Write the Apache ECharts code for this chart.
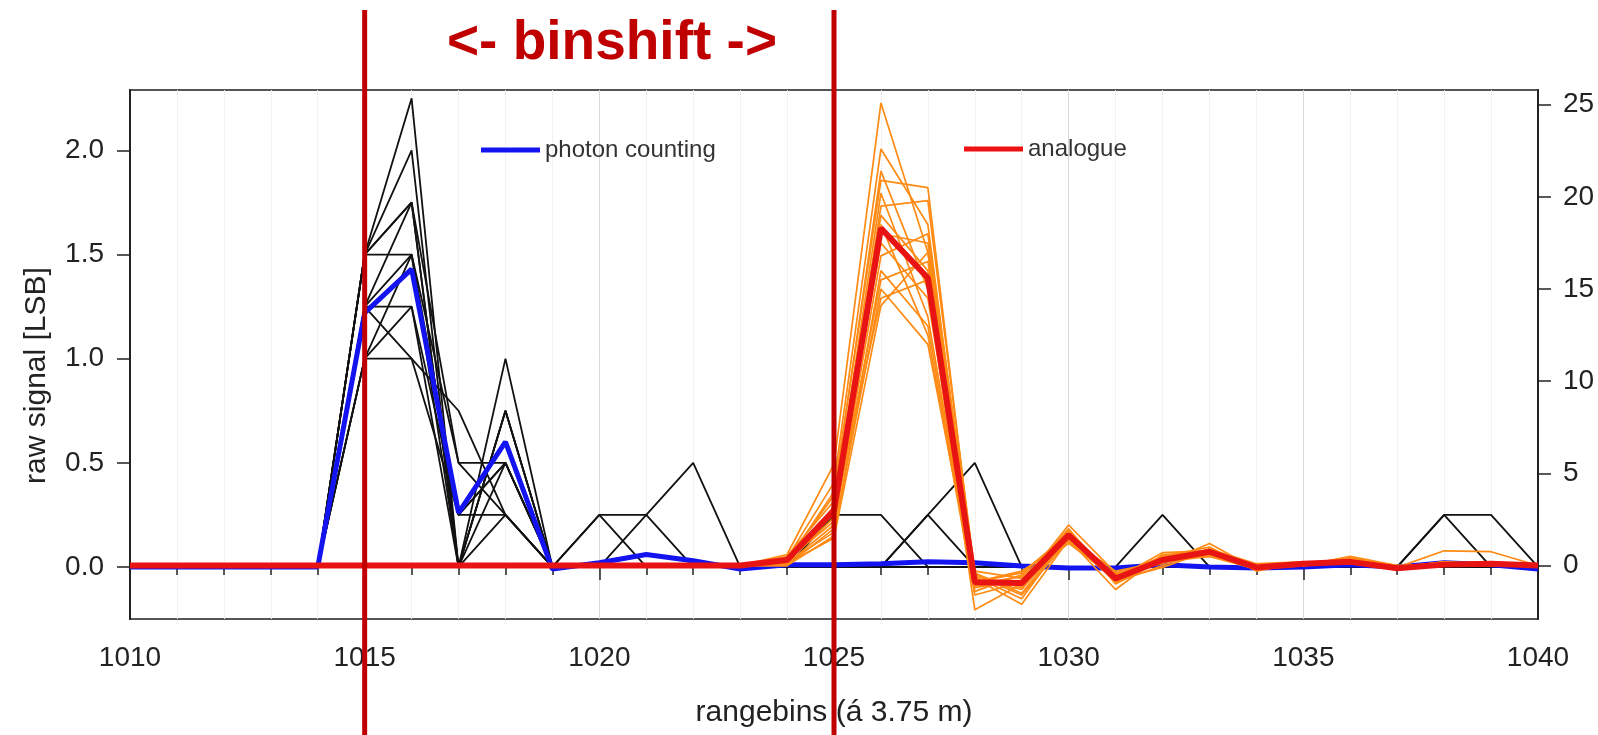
<!DOCTYPE html>
<html>
<head>
<meta charset="utf-8">
<title>binshift</title>
<script src="https://cdn.jsdelivr.net/npm/echarts@6/dist/echarts.min.js"></script>
<style>
  html, body { margin: 0; padding: 0; background: #fff; }
  #chart { width: 1598px; height: 735px; }
</style>
</head>
<body>
<div id="chart"></div>
<script>
// range bins on the x axis
const bins = [1010, 1011, 1012, 1013, 1014, 1015, 1016, 1017, 1018, 1019, 1020, 1021, 1022, 1023, 1024, 1025,
  1026, 1027, 1028, 1029, 1030, 1031, 1032, 1033, 1034, 1035, 1036, 1037, 1038, 1039, 1040]

// single photon counting profiles (left axis, LSB)
const pcShots = [
  [0,0,0,0,0, 1.5,2.25,0,1,0,     0.25,0.25,0,0,0, 0,0,0,0,0,       0,0,0,0,0, 0,0,0,0,0, 0],
  [0,0,0,0,0, 1.5,2,0,0.75,0,     0.25,0,0,0,0,    0,0,0,0,0,       0,0,0,0,0, 0,0,0,0,0, 0],
  [0,0,0,0,0, 1.25,1.75,0.5,0.5,0, 0,0.25,0.5,0,0, 0,0,0,0,0,       0,0,0,0,0, 0,0,0,0,0, 0],
  [0,0,0,0,0, 1.5,1.75,0,0.5,0,   0,0,0,0,0,       0.25,0.25,0,0,0, 0,0,0,0,0, 0,0,0,0,0, 0],
  [0,0,0,0,0, 1.5,1.5,0.25,0.25,0, 0,0,0,0,0,      0,0,0.25,0.5,0,  0,0,0,0,0, 0,0,0,0,0, 0],
  [0,0,0,0,0, 1.25,1.5,0,0.25,0,  0,0,0,0,0,       0,0,0.25,0,0,    0,0,0,0,0, 0,0,0,0,0, 0],
  [0,0,0,0,0, 1,1.5,0.5,0.25,0,   0,0,0,0,0,       0,0,0,0,0,       0,0,0.25,0,0, 0,0,0,0,0, 0],
  [0,0,0,0,0, 1.25,1.25,0.25,0.5,0, 0,0,0,0,0,     0,0,0,0,0,       0,0,0,0,0, 0,0,0,0.25,0.25, 0],
  [0,0,0,0,0, 1,1.25,0,0.75,0,    0,0,0,0,0,       0,0,0,0,0,       0,0,0,0,0, 0,0,0,0.25,0, 0],
  [0,0,0,0,0, 1.25,1,0.75,0.25,0, 0,0,0,0,0,       0,0,0,0,0,       0,0,0,0,0, 0,0,0,0,0, 0],
  [0,0,0,0,0, 1,1,0.25,0.5,0,     0,0,0,0,0,       0,0,0,0,0,       0,0,0,0,0, 0,0,0,0,0, 0],
  [0,0,0,0,0, 1.5,1.75,0,0.75,0,  0,0,0,0,0,       0,0,0,0,0,       0,0,0,0,0, 0,0,0,0,0, 0]
]

// photon counting mean
const pcMean = [0,0,0,0,0, 1.22,1.43,0.26,0.6,-0.01, 0.02,0.06,0.03,-0.01,0.01, 0.01,0.015,0.025,0.02,0.005,
  -0.005,-0.005,0.01,0,-0.005, 0,0.01,0,0.02,0.01, -0.01]

// single analogue profiles (right axis)
const anShots = [
  [0,0,0,0,0, 0,0,0,0,0, 0,0,0,0, 0.6,5.5,25.1,17,-0.5,-1.2,1.8,-0.6,0.3,0.8,-0.1,0.1,0.3,-0.1,0.8,0.75,0],
  [0,0,0,0,0, 0,0,0,0,0, 0,0,0,0, 0.4,4.5,22.6,18.5,-1,-0.6,1.5,-0.9,0.5,0.6,0,0.2,0.2,-0.2,0.1,0.1,0],
  [0,0,0,0,0, 0,0,0,0,0, 0,0,0,0, 0.3,3.8,21.4,15,-2.4,-1,2.2,-0.4,0.1,1.2,-0.2,0,0.4,0,0,0.1,0],
  [0,0,0,0,0, 0,0,0,0,0, 0,0,0,0, 0.2,4,20.9,20.5,-0.7,-2.1,1.4,-1.3,0.6,0.7,-0.1,0.1,0.2,-0.1,0.2,0,0],
  [0,0,0,0,0, 0,0,0,0,0, 0,0,0,0, 0.1,3.2,20.2,13.5,-1.2,-0.8,1.9,-0.7,0.2,0.9,0.1,0.2,0.1,-0.2,0.1,0.2,0],
  [0,0,0,0,0, 0,0,0,0,0, 0,0,0,0, 0.3,2.8,19.5,19.8,-0.4,-1.5,1.6,-0.5,0.4,0.5,-0.2,0.1,0.3,-0.1,0,0.1,0],
  [0,0,0,0,0, 0,0,0,0,0, 0,0,0,0, 0.5,3.5,19,16,-0.9,-0.3,1.3,-0.8,-0.1,0.8,-0.1,0,0.5,0,0.1,0,0],
  [0,0,0,0,0, 0,0,0,0,0, 0,0,0,0, 0,2,18.5,12.5,-1.6,-0.9,2,-1,0.3,0.7,0,0.1,0.2,-0.2,0.2,0.1,0],
  [0,0,0,0,0, 0,0,0,0,0, 0,0,0,0, 0.2,2.6,18,17.5,-0.6,-1.8,1.7,-0.6,0.5,1,-0.3,0.2,0.1,-0.1,0,0.1,0],
  [0,0,0,0,0, 0,0,0,0,0, 0,0,0,0, 0.4,3,17.5,14.5,-0.8,-1.1,1.5,-0.3,0.2,0.6,-0.1,0.1,0.3,-0.1,0.1,0,0],
  [0,0,0,0,0, 0,0,0,0,0, 0,0,0,0, 0.1,2.2,16.8,18,-0.3,-0.7,1.2,-0.7,0.7,0.8,0,0,0.2,-0.2,0.1,0.2,0],
  [0,0,0,0,0, 0,0,0,0,0, 0,0,0,0, 0,1.6,16,13,-1.4,-0.5,1.8,-0.9,0,0.9,-0.1,0.1,0.4,0,0,0.1,0],
  [0,0,0,0,0, 0,0,0,0,0, 0,0,0,0, 0.3,2.4,15.5,16.5,-0.7,-1.3,1.6,-0.5,0.4,0.6,-0.2,0.2,0.1,-0.1,0.2,0,0],
  [0,0,0,0,0, 0,0,0,0,0, 0,0,0,0, 0.2,1.8,15,12,-1.1,-0.9,1.9,-0.8,0.3,0.7,0,0.1,0.2,-0.2,0.1,0.1,0],
  [0,0,0,0,0, 0,0,0,0,0, 0,0,0,0, 0.4,2.9,14.5,15.5,-0.5,-1.6,1.4,-0.6,0.2,0.5,-0.1,0,0.3,-0.1,0,0.1,0],
  [0,0,0,0,0, 0,0,0,0,0, 0,0,0,0, 0.1,1.5,14.1,17,-0.9,-0.4,1.7,-0.7,0.4,0.8,-0.1,0.1,0.2,-0.1,0.1,0,0]
]

// analogue mean
const anMean = [0,0,0,0,0, 0,0,0,0,0, 0,0,0,0,0.3, 3,18.3,15.6,-0.9,-0.95, 1.65,-0.7,0.3,0.75,-0.1,
  0.1,0.2,-0.15,0.05,0.1, 0]

const leftTicks = [0, 0.5, 1, 1.5, 2]
const rightTicks = [0, 5, 10, 15, 20, 25]
const shiftBins = [1015, 1025]

const font = "'Liberation Sans', Arial, sans-serif"
const ink = '#222'
const pair = vals => bins.map((b, i) => [b, vals[i]])

const series = []
pcShots.forEach((s, k) => series.push({
  name: 'pc' + k, type: 'line', yAxisIndex: 0, data: pair(s), symbol: 'none', silent: true,
  lineStyle: { color: '#111', width: 1.8 }, itemStyle: { color: '#111' }
}))
series.push({
  name: 'photon counting', type: 'line', yAxisIndex: 0, data: pair(pcMean), symbol: 'none', silent: true,
  lineStyle: { color: '#1414f0', width: 5 }, itemStyle: { color: '#1414f0' }
})
anShots.forEach((s, k) => series.push({
  name: 'an' + k, type: 'line', yAxisIndex: 1, data: pair(s), symbol: 'none', silent: true,
  lineStyle: { color: '#ff8a14', width: 1.7 }, itemStyle: { color: '#ff8a14' }
}))
series.push({
  name: 'analogue', type: 'line', yAxisIndex: 1, data: pair(anMean), symbol: 'none', silent: true,
  lineStyle: { color: '#e81414', width: 6 }, itemStyle: { color: '#ee1111' }
})

const axisLine = { show: true, lineStyle: { color: ink, width: 2 } }
const tickLine = { color: ink, width: 1.5 }
const legendBase = { orient: 'horizontal', padding: 0, icon: 'rect', itemWidth: 59, itemHeight: 5,
  selectedMode: false, textStyle: { fontSize: 24, color: '#333', fontFamily: font } }

const chart = echarts.init(document.getElementById('chart'))
chart.setOption({
  animation: false,
  backgroundColor: '#fff',
  title: { text: '<- binshift ->', left: 447, top: 16, padding: 0,
    textStyle: { fontSize: 55, fontWeight: 'bold', color: '#c00000', fontFamily: font } },
  legend: [
    Object.assign({ data: ['photon counting'], left: 481, top: 138 }, legendBase),
    Object.assign({ data: ['analogue'], left: 964, top: 137 }, legendBase)
  ],
  grid: { left: 130, right: 60, top: 90, bottom: 116, show: true, borderColor: '#555', borderWidth: 2 },
  xAxis: {
    type: 'value', min: 1010, max: 1040, interval: 5,
    name: 'rangebins (á 3.75 m)', nameLocation: 'middle', nameGap: 79,
    nameTextStyle: { fontSize: 30, color: ink, fontFamily: font },
    axisLine,
    axisTick: { length: 13, lineStyle: tickLine },
    minorTick: { show: true, splitNumber: 5, length: 8, lineStyle: tickLine },
    splitLine: { show: true, lineStyle: { color: '#d9d9d9', width: 1 } },
    minorSplitLine: { show: true, lineStyle: { color: '#e6e6e6', width: 1, type: 'dotted' } },
    axisLabel: { formatter: v => String(v), fontSize: 28, color: ink, margin: 25, fontFamily: font }
  },
  yAxis: [{
    type: 'value', position: 'left', min: -0.25, max: 2.29,
    name: 'raw signal [LSB]', nameLocation: 'middle', nameGap: 78,
    nameTextStyle: { fontSize: 30, color: ink, fontFamily: font, padding: [0, 42, 0, 0] },
    axisLine,
    axisTick: { show: true, length: 13, lineStyle: tickLine, customValues: leftTicks },
    axisLabel: { customValues: leftTicks, formatter: v => v.toFixed(1), fontSize: 28, color: ink, margin: 26, fontFamily: font },
    splitLine: { show: false }
  }, {
    type: 'value', position: 'right', min: -2.9, max: 25.8,
    axisLine,
    axisTick: { show: true, length: 13, lineStyle: tickLine, customValues: rightTicks },
    axisLabel: { customValues: rightTicks, fontSize: 28, color: ink, margin: 25, fontFamily: font },
    splitLine: { show: false }
  }],
  series
})

// binshift markers, placed through the x axis scale
chart.setOption({
  graphic: shiftBins.map(b => {
    const x = chart.convertToPixel({ xAxisIndex: 0 }, b)
    return { type: 'line', z: 100, silent: true,
      shape: { x1: x, y1: 10, x2: x, y2: 735 }, style: { stroke: '#c00000', lineWidth: 5 } }
  })
})
</script>
</body>
</html>
